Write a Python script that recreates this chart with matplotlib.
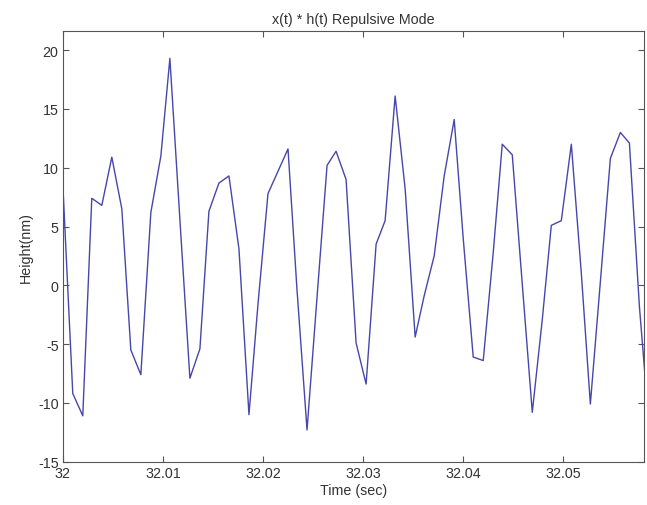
"""x(t) * h(t) Repulsive Mode -- height trace over a short time window."""

import matplotlib
matplotlib.use("Agg")
import matplotlib.pyplot as plt

TIME = [
    32.0000, 32.0010, 32.0020, 32.0029, 32.0039, 32.0049, 32.0059, 32.0068,
    32.0078, 32.0088, 32.0098, 32.0107, 32.0117, 32.0127, 32.0137, 32.0146,
    32.0156, 32.0166, 32.0176, 32.0186, 32.0195, 32.0205, 32.0215, 32.0225,
    32.0234, 32.0244, 32.0254, 32.0264, 32.0273, 32.0283, 32.0293, 32.0303,
    32.0313, 32.0322, 32.0332, 32.0342, 32.0352, 32.0361, 32.0371, 32.0381,
    32.0391, 32.0400, 32.0410, 32.0420, 32.0430, 32.0439, 32.0449, 32.0459,
    32.0469, 32.0479, 32.0488, 32.0498, 32.0508, 32.0518, 32.0527, 32.0537,
    32.0547, 32.0557, 32.0566, 32.0576, 32.0586,
]
HEIGHT = [
    8.7, -9.2, -11.1, 7.4, 6.8, 10.9, 6.5, -5.5,
    -7.6, 6.2, 11.0, 19.3, 5.6, -7.9, -5.4, 6.3,
    8.7, 9.3, 3.1, -11.0, -1.6, 7.8, 9.7, 11.6,
    -0.4, -12.3, -1.0, 10.2, 11.4, 9.0, -4.9, -8.4,
    3.5, 5.5, 16.1, 8.2, -4.4, -0.9, 2.5, 9.3,
    14.1, 4.0, -6.1, -6.4, 2.8, 12.0, 11.1, 0.1,
    -10.8, -2.9, 5.1, 5.5, 12.0, 1.0, -10.1, 0.3,
    10.8, 13.0, 12.1, -1.8, -12.3,
]

X_TICKS = [32.00, 32.01, 32.02, 32.03, 32.04, 32.05]
X_LABELS = ["32", "32.01", "32.02", "32.03", "32.04", "32.05"]
Y_TICKS = [-15, -10, -5, 0, 5, 10, 15, 20]

LINE_COLOR = "#4646ad"
TEXT_COLOR = "#333333"
FS = 10.3

plt.rcParams["font.family"] = ["Liberation Sans", "DejaVu Sans"]
plt.rcParams["axes.unicode_minus"] = False

fig = plt.figure(figsize=(6.47, 5.06), dpi=100)
fig.patch.set_facecolor("white")
ax = fig.add_axes([0.097, 0.0856, 0.899, 0.8505])

ax.plot(TIME, HEIGHT, color=LINE_COLOR, lw=1.0)

ax.set_xlim(32.0, 32.0581)
ax.set_ylim(-15, 21.6)
ax.set_xticks(X_TICKS)
ax.set_xticklabels(X_LABELS)
ax.set_yticks(Y_TICKS)

ax.tick_params(direction="in", top=True, right=True, length=4, width=0.8,
               labelsize=FS, colors="#555555", labelcolor=TEXT_COLOR, pad=3)
for sp in ax.spines.values():
    sp.set_color("#555555")
    sp.set_linewidth(0.8)

ax.set_title("x(t) * h(t) Repulsive Mode", fontsize=FS, color=TEXT_COLOR, pad=6)
ax.set_xlabel("Time (sec)", fontsize=FS, color=TEXT_COLOR, labelpad=2)
ax.set_ylabel("Height(nm)", fontsize=FS, color=TEXT_COLOR, labelpad=4)

fig.savefig("out.png", dpi=100, facecolor="white")
